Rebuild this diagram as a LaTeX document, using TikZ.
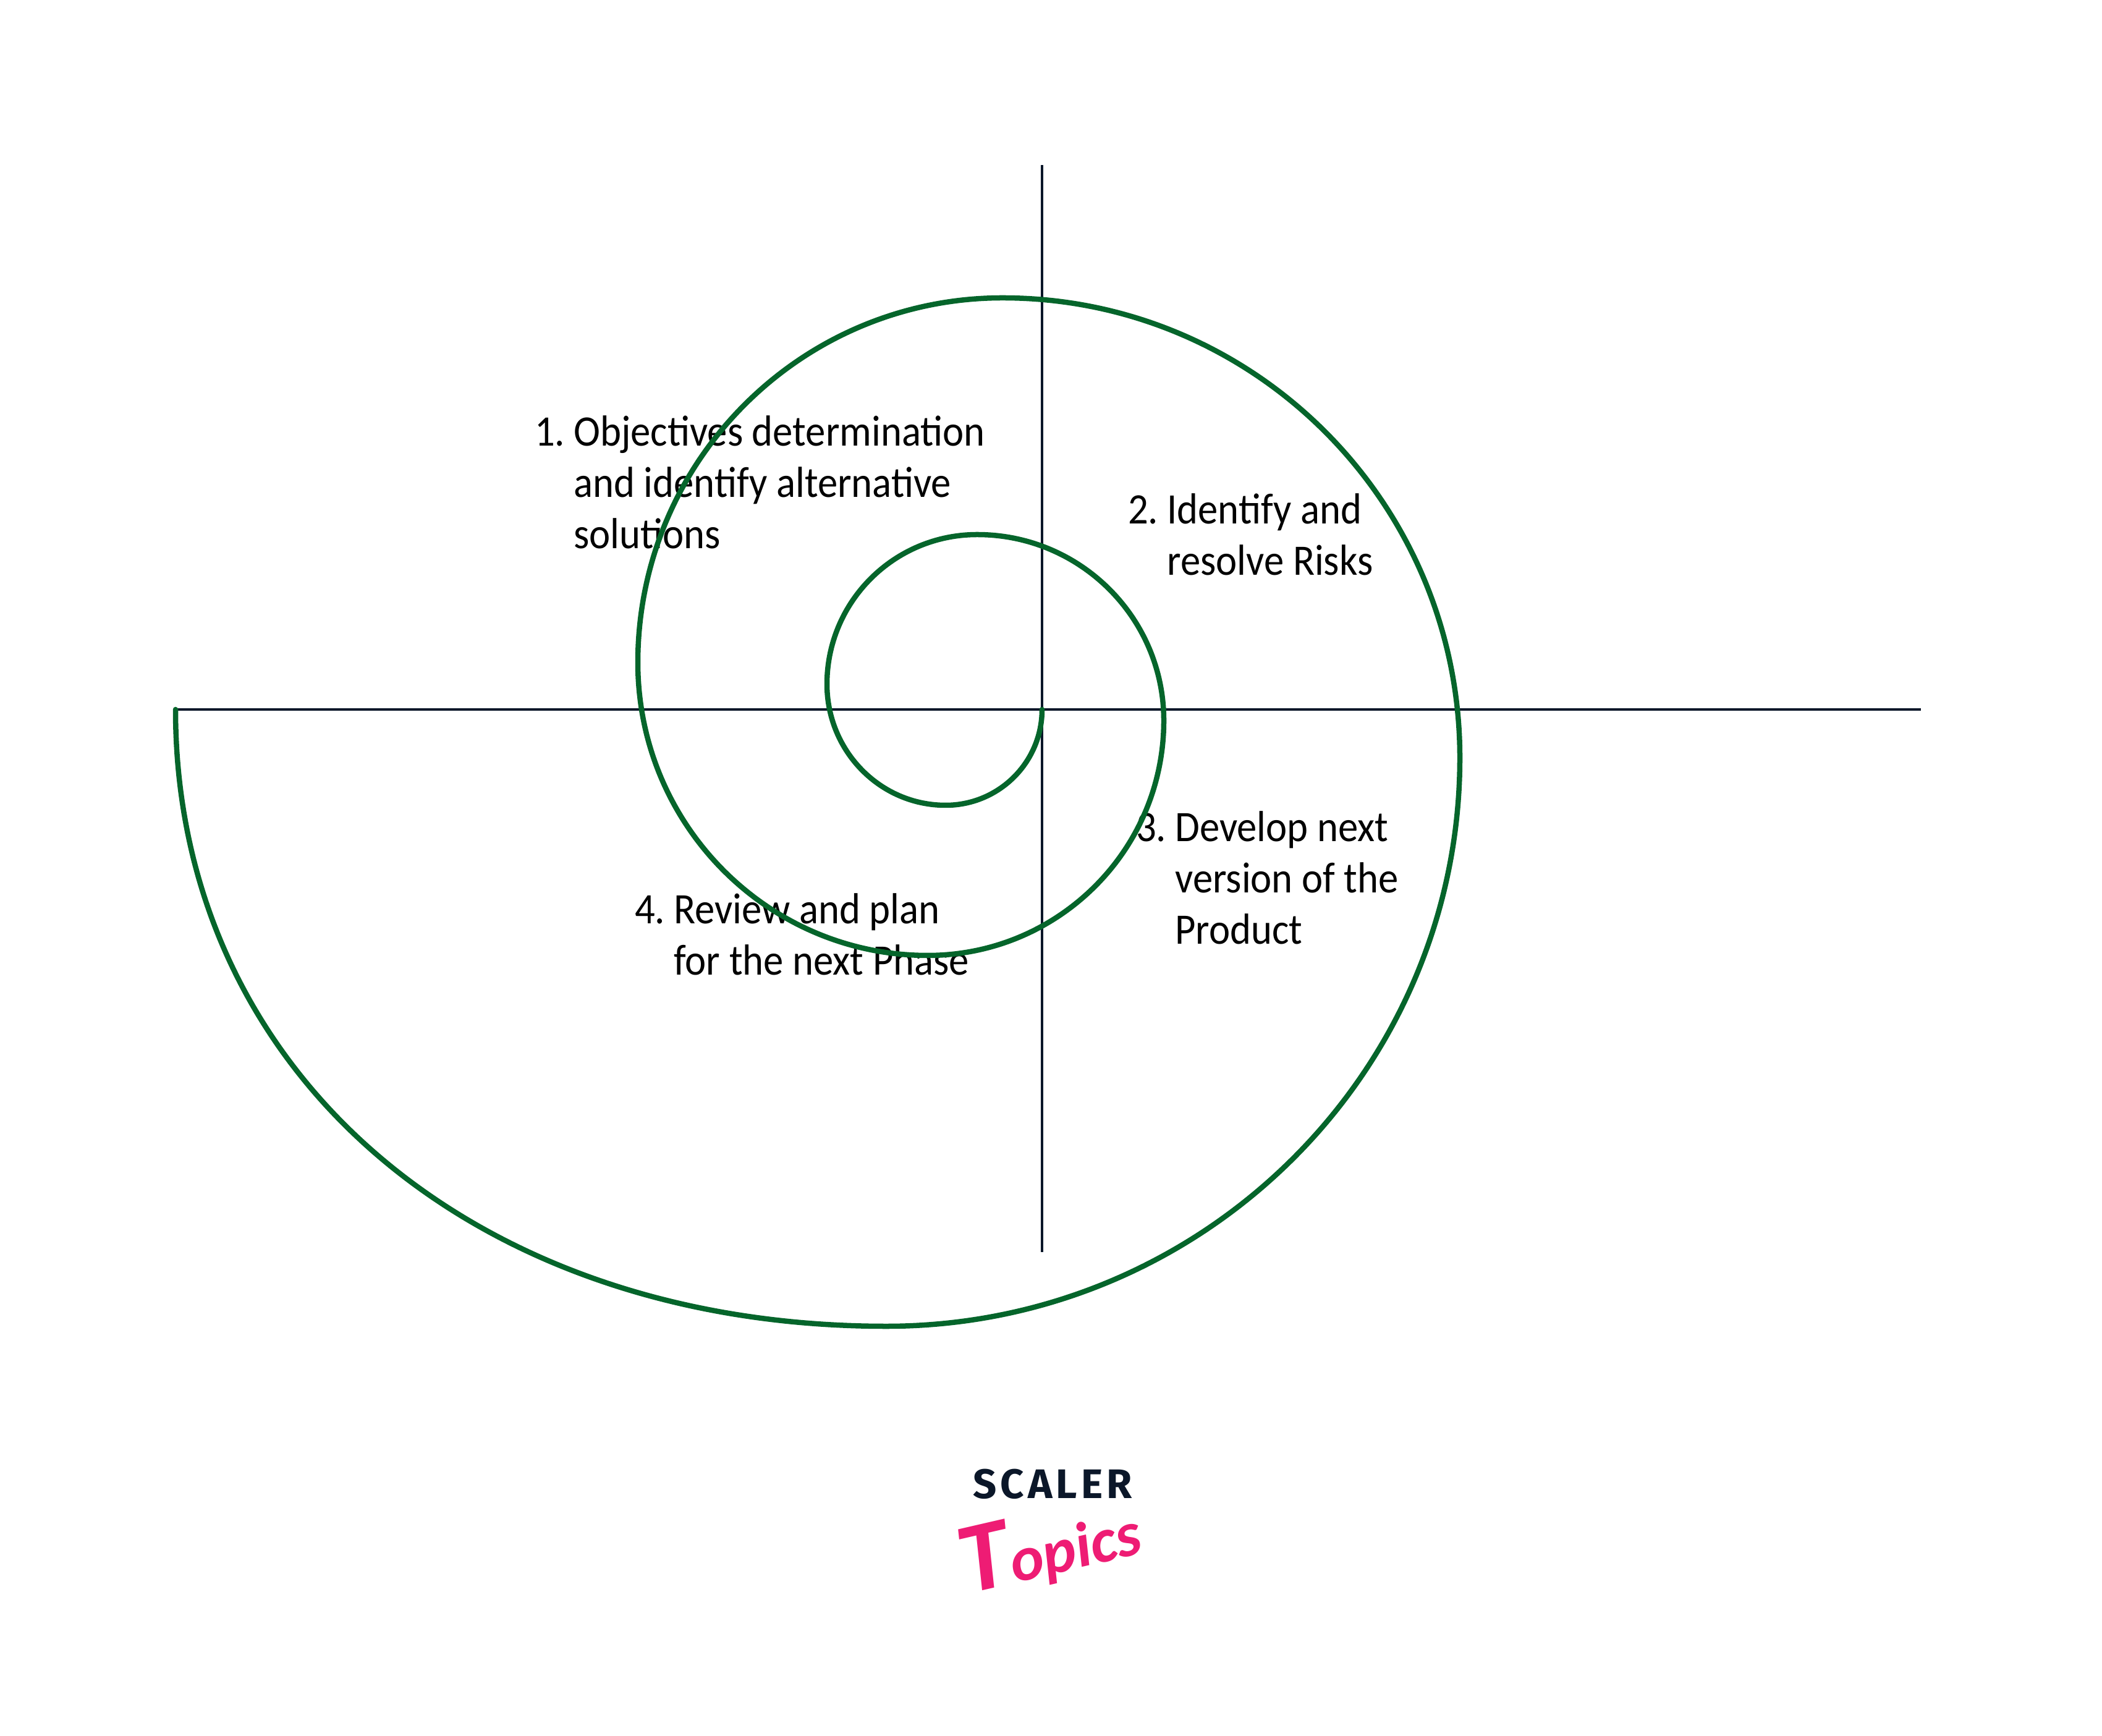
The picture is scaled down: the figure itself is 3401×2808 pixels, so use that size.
\documentclass[tikz,border=0pt]{standalone}
\usepackage{fontspec}
\setmainfont[FakeStretch=0.92]{Carlito}
\newfontfamily\logofont[LetterSpace=9]{Fira Sans}
\newfontfamily\topicsfont{Carlito}
\definecolor{spiralgreen}{HTML}{05652B}
\definecolor{axisnavy}{HTML}{0B1729}
\definecolor{logopink}{HTML}{EE1C74}
\tikzset{every picture/.style={line width=0.2mm}}
\tikzset{
  axisline/.style={draw=axisnavy, line width=0.4mm},
  spiral/.style={draw=spiralgreen, line width=0.85mm, line cap=round},
  stepitem/.style={anchor=base west, inner sep=0pt, font=\fontsize{20}{23.6}\selectfont}
}
\newcommand{\stepnote}[2]{\begin{tabular}[t]{@{}p{1.78mm}@{\hspace{4.55mm}}l@{}}#1 & \begin{tabular}[t]{@{}l@{}}#2\end{tabular}\end{tabular}}

\begin{document}
\begin{tikzpicture}[x=0.01cm, y=0.01cm]
  \useasboundingbox (0,0) rectangle (3401,2808);
  \coordinate (west) at (284,1660);
  \coordinate (east) at (3108,1660);
  \coordinate (north) at (1686,2541);
  \coordinate (south) at (1686,782);
  \coordinate (origin) at (1686,1660);
  \draw[axisline] (west) -- (east);
  \draw[axisline] (north) -- (south);
  \node[stepitem] (objectives) at (864,2086) {\stepnote{1.}{Objectives determination\\and identify alternative\\solutions}};
  \node[stepitem] (risks) at (1824,1960) {\stepnote{2.}{Identify and\\resolve Risks}};
  \node[stepitem] (develop) at (1837,1446) {\stepnote{3.}{Develop next\\version of the\\Product}};
  \node[stepitem] (review) at (1026,1313) {\stepnote{4.}{Review and plan\\for the next Phase}};
  % quarter arcs, growing outward
  \draw[spiral] (origin)
    arc[start angle=0, end angle=-90, x radius=156, y radius=155]
    arc[start angle=-90, end angle=-180, x radius=192, y radius=196]
    arc[start angle=180, end angle=90, x radius=243, y radius=242]
    arc[start angle=90, end angle=0, x radius=302, y radius=301]
    arc[start angle=0, end angle=-90, x radius=382, y radius=380]
    arc[start angle=-90, end angle=-180, x radius=469, y radius=474]
    arc[start angle=180, end angle=90, x radius=590, y radius=590]
    arc[start angle=90, end angle=0, x radius=740, y radius=744]
    arc[start angle=0, end angle=-90, x radius=928, y radius=920]
    .. controls (761,662) and (284,1077) .. (west);
  \node[inner sep=0pt, text=axisnavy, anchor=base] (scaler) at (1703,384) {\logofont\fontsize{19}{20}\selectfont\bfseries SCALER};
  \node[inner sep=0pt, text=logopink, anchor=base, rotate=13] (topics) at (1708,262) {\topicsfont\itshape\bfseries\fontsize{29}{31}\selectfont{\fontsize{46}{46}\selectfont T}opics};
\end{tikzpicture}
\end{document}
